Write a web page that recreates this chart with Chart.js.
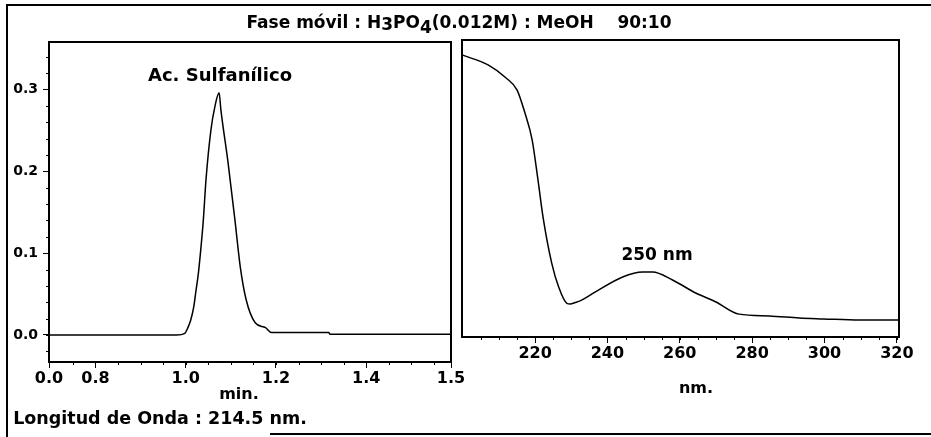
<!DOCTYPE html>
<html>
<head>
<meta charset="utf-8">
<script src="https://cdn.jsdelivr.net/npm/chart.js@4.4.1/dist/chart.umd.min.js"></script>
<style>
  body { margin: 0; background: #fff; }
  #page { position: relative; width: 931px; height: 437px; overflow: hidden; background: #fff;
          font-family: "DejaVu Sans", sans-serif; font-weight: bold; color: #000; }
  canvas { position: absolute; top: 0; }
  .txt { position: absolute; white-space: nowrap; transform: translate(-50%, -50%); line-height: 1; }
  .ln { position: absolute; background: #000; }
</style>
</head>
<body>
<div id="page">
  <div class="ln" style="left:6px;top:4px;width:925px;height:2px"></div>
  <div class="ln" style="left:6px;top:4px;width:2px;height:433px"></div>
  <div class="ln" style="left:270px;top:433px;width:661px;height:2px"></div>

  <canvas id="cromatograma" width="470" height="437" style="left:0"></canvas>
  <canvas id="espectro" width="476" height="437" style="left:455px"></canvas>

  <div class="txt" style="left:459px;top:22px;font-size:17px">Fase móvil : H<span style="position:relative;top:2px">3</span>PO<span style="position:relative;top:5px">4</span>(0.012M) : MeOH&nbsp;&nbsp;&nbsp;&nbsp;90:10</div>
  <div class="txt" style="left:220px;top:75px;font-size:18px">Ac. Sulfanílico</div>
  <div class="txt" style="left:657px;top:254px;font-size:17px">250 nm</div>
  <div class="txt" style="left:239px;top:394px;font-size:16px">min.</div>
  <div class="txt" style="left:696px;top:388px;font-size:16px">nm.</div>
  <div class="txt" style="left:160px;top:419px;font-size:17.5px">Longitud de Onda : 214.5 nm.</div>
</div>

<script>
// Cromatograma (min, AU)
const peakTime = [0.697, 0.98, 0.998, 1.004, 1.011, 1.018, 1.022, 1.028, 1.034, 1.039, 1.045, 1.056, 1.065, 1.074,
  1.078, 1.094, 1.109, 1.121, 1.134, 1.154, 1.177, 1.19, 1.317, 1.32, 1.588];
const peakAbs = [0.0, 0.0, 0.002, 0.008, 0.018, 0.035, 0.051, 0.075, 0.108, 0.14, 0.19, 0.251, 0.28, 0.296,
  0.275, 0.21, 0.141, 0.083, 0.043, 0.015, 0.009, 0.003, 0.003, 0.001, 0.001];

// Espectro UV (nm, absorbancia relativa)
const specNm = [200, 207, 212, 215, 217.2, 219.2, 220.8, 222.2, 224.6, 226.5, 228.8, 229.7, 231.1, 233,
  236.7, 244.2, 249.7, 252.5, 258, 264.4, 270, 276.4, 284.7, 293, 299.7, 309.7, 320.6];
const specAbs = [0.949, 0.916, 0.872, 0.832, 0.754, 0.663, 0.529, 0.404, 0.249, 0.169, 0.113, 0.111, 0.116, 0.125,
  0.152, 0.202, 0.219, 0.219, 0.192, 0.148, 0.118, 0.077, 0.071, 0.064, 0.061, 0.057, 0.057];

// Ejes
const timeTicks = [0.697, 0.8, 1.0, 1.2, 1.4, 1.588];
const timeTickLabels = ["0.0", "0.8", "1.0", "1.2", "1.4", "1.5"];
const absTicks = [0, 0.1, 0.2, 0.3];
const absTickLabels = ["0.0", "0.1", "0.2", "0.3"];
const nmTicks = [220, 240, 260, 280, 300, 320];
const nmTickLabels = ["220", "240", "260", "280", "300", "320"];

function range(a, b, step) {
  const out = [];
  for (let v = a; v <= b + 1e-9; v += step) out.push(+v.toFixed(4));
  return out;
}
const timeMinor = range(0.75, 1.55, 0.05);
const absMinor = range(-0.02, 0.34, 0.02);
const nmMinor = range(205, 320, 5);

// Marco del área y marcas menores
const marco = {
  id: "marco",
  afterDraw(chart, args, opts) {
    const { ctx, chartArea: a } = chart;
    ctx.save();
    ctx.strokeStyle = "#000";
    ctx.lineWidth = 2;
    ctx.strokeRect(a.left, a.top, a.right - a.left, a.bottom - a.top);
    ctx.lineWidth = 1;
    ctx.beginPath();
    (opts.xMinor || []).forEach((v) => {
      const x = Math.round(chart.scales.x.getPixelForValue(v)) + 0.5;
      ctx.moveTo(x, a.bottom);
      ctx.lineTo(x, a.bottom + 3);
    });
    (opts.yMinor || []).forEach((v) => {
      const y = Math.round(chart.scales.y.getPixelForValue(v)) + 0.5;
      if (y < a.top || y > a.bottom) return;
      ctx.moveTo(a.left, y);
      ctx.lineTo(a.left - 3, y);
    });
    ctx.stroke();
    ctx.restore();
  },
};

const tickGrid = { drawOnChartArea: false, drawTicks: true, tickLength: 6, color: "#000", lineWidth: 1 };

function serie(xs, ys) {
  return xs.map((x, i) => ({ x, y: ys[i] }));
}

new Chart(document.getElementById("cromatograma"), {
  type: "line",
  data: {
    datasets: [{
      data: serie(peakTime, peakAbs),
      borderColor: "#000",
      borderWidth: 1.5,
      pointRadius: 0,
      cubicInterpolationMode: "monotone",
    }],
  },
  options: {
    responsive: false,
    animation: false,
    devicePixelRatio: 1,
    layout: { padding: { top: 42, right: 19, left: 0, bottom: 0 } },
    plugins: { legend: { display: false }, tooltip: { enabled: false }, marco: { xMinor: timeMinor, yMinor: absMinor } },
    scales: {
      x: {
        type: "linear",
        min: 0.697,
        max: 1.588,
        afterBuildTicks: (s) => { s.ticks = timeTicks.map((v) => ({ value: v })); },
        afterFit: (s) => { s.height = 75; },
        ticks: {
          autoSkip: false, maxRotation: 0, padding: 1, color: "#000",
          font: { family: "DejaVu Sans", weight: "bold", size: 16 },
          callback: (v, i) => timeTickLabels[i],
        },
        grid: tickGrid,
        border: { display: false },
      },
      y: {
        type: "linear",
        min: -0.033,
        max: 0.358,
        afterBuildTicks: (s) => { s.ticks = absTicks.map((v) => ({ value: v })); },
        afterFit: (s) => { s.width = 49; },
        ticks: {
          padding: 5, color: "#000",
          font: { family: "DejaVu Sans", weight: "bold", size: 14 },
          callback: (v, i) => absTickLabels[i],
        },
        grid: tickGrid,
        border: { display: false },
      },
    },
  },
  plugins: [marco],
});

new Chart(document.getElementById("espectro"), {
  type: "line",
  data: {
    datasets: [{
      data: serie(specNm, specAbs),
      borderColor: "#000",
      borderWidth: 1.5,
      pointRadius: 0,
      cubicInterpolationMode: "monotone",
    }],
  },
  options: {
    responsive: false,
    animation: false,
    devicePixelRatio: 1,
    layout: { padding: { top: 40, right: 32, left: 7, bottom: 0 } },
    plugins: { legend: { display: false }, tooltip: { enabled: false }, marco: { xMinor: nmMinor } },
    scales: {
      x: {
        type: "linear",
        min: 199.8,
        max: 320.6,
        afterBuildTicks: (s) => { s.ticks = nmTicks.map((v) => ({ value: v })); },
        afterFit: (s) => { s.height = 100; },
        ticks: {
          autoSkip: false, maxRotation: 0, padding: 1, color: "#000",
          font: { family: "DejaVu Sans", weight: "bold", size: 16 },
          callback: (v, i) => nmTickLabels[i],
        },
        grid: tickGrid,
        border: { display: false },
      },
      y: { display: false, min: 0, max: 1 },
    },
  },
  plugins: [marco],
});
</script>
</body>
</html>
